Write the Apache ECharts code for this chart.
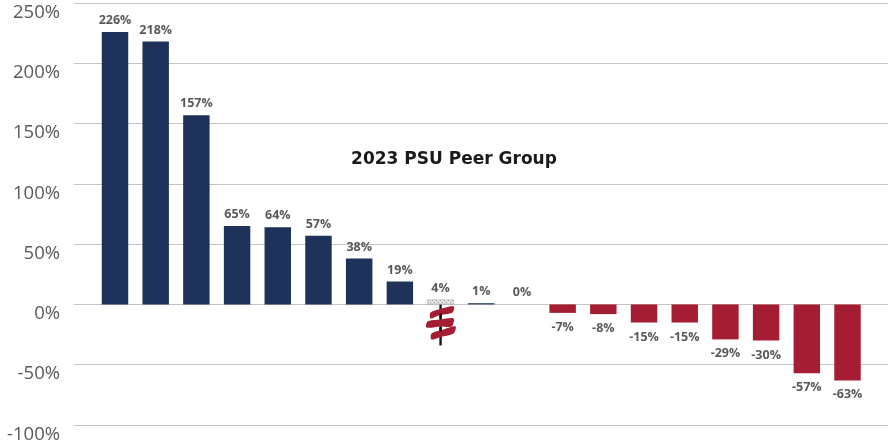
<!DOCTYPE html>
<html>
<head>
<meta charset="utf-8">
<script src="https://cdn.jsdelivr.net/npm/echarts@6/dist/echarts.min.js"></script>
<style>
html,body{margin:0;padding:0;background:#fff;}
#c{width:888px;height:446px;}
</style>
</head>
<body>
<div id="c"></div>
<script>
const categories = ['Peer 1','Peer 2','Peer 3','Peer 4','Peer 5','Peer 6','Peer 7','Peer 8','PSU','Peer 9','Peer 10','Peer 11','Peer 12','Peer 13','Peer 14','Peer 15','Peer 16','Peer 17','Peer 18'];
const values = [226, 218, 157, 65, 64, 57, 38, 19, 4, 1, 0, -7, -8, -15, -15, -29, -30, -57, -63];
const highlightCategory = 'PSU';
const yMin = -100, yMax = 250, yStep = 50;
const titleText = '2023 PSU Peer Group';

const NAVY = '#1f3259';
const RED = '#a51d32';
const FONT = '"Open Sans", sans-serif';

// hatched pattern for highlighted bar
const pc = document.createElement('canvas');
pc.width = 4; pc.height = 4;
const pctx = pc.getContext('2d');
pctx.fillStyle = '#e4e4e4'; pctx.fillRect(0,0,4,4);
pctx.fillStyle = '#9a9a9a'; pctx.fillRect(0,0,1,1); pctx.fillRect(2,2,1,1);

const data = values.map((v, i) => {
  const isHi = categories[i] === highlightCategory;
  return {
    value: v,
    itemStyle: isHi ? { color: { image: pc, repeat: 'repeat' }, borderColor: '#a8a8a8', borderWidth: 0.6 }
                    : { color: v >= 0 ? NAVY : RED },
    label: { position: v >= 0 ? 'top' : 'bottom', distance: v >= 0 ? 5 : 8 }
  };
});

const chart = echarts.init(document.getElementById('c'), null, { renderer: 'canvas' });
chart.setOption({
  animation: false,
  title: {
    text: titleText, left: 449, top: 146, textAlign: 'center',
    textStyle: { fontFamily: '"DejaVu Sans", sans-serif', fontWeight: 700, fontSize: 17, color: '#1a1a1a' }
  },
  grid: [
    { left: 74, right: 0, top: 3, bottom: 21 },
    { left: 94.65, right: 20.15, top: 3, bottom: 21 }
  ],
  xAxis: [
    { gridIndex: 0, type: 'value', show: false, min: 0, max: 1 },
    { gridIndex: 1, type: 'category', data: categories, show: false }
  ],
  yAxis: [
    { gridIndex: 0, type: 'value', min: yMin, max: yMax, interval: yStep,
      axisLine: { show: false }, axisTick: { show: false },
      splitLine: { lineStyle: { color: '#c4c4c4', width: 1 } },
      axisLabel: { formatter: '{value}%', margin: 14, verticalAlign: 'top',
        fontFamily: FONT, fontSize: 18.5, color: '#595959' } },
    { gridIndex: 1, type: 'value', min: yMin, max: yMax, interval: yStep, show: false,
      splitLine: { show: false } }
  ],
  series: [{
    type: 'bar', xAxisIndex: 1, yAxisIndex: 1, barWidth: '65%',
    data: data,
    label: { show: true, formatter: '{c}%', fontFamily: FONT, fontWeight: 700, fontSize: 12.5, color: '#595959' }
  }]
});

// logo below highlighted bar
const p = chart.convertToPixel({ xAxisIndex: 1, yAxisIndex: 1 }, [highlightCategory, 0]);
chart.setOption({
  graphic: [{
    type: 'group', x: p[0], y: p[1], z: 100,
    children: [
      { type: 'rect', shape: { x: -1.2, y: 0, width: 2.4, height: 41 }, style: { fill: '#151515' } },
      { type: 'polygon', shape: { points: [[-10,8],[-2,5],[13,2],[12,8],[-2,11],[-10,14]], smooth: 0.3 }, style: { fill: RED } },
      { type: 'polygon', shape: { points: [[-13,17],[0,15],[13,14],[11,22],[0,22],[-14,23]], smooth: 0.3 }, style: { fill: RED } },
      { type: 'polygon', shape: { points: [[-9,29],[3,25],[15,22],[13,29],[2,32],[-9,35]], smooth: 0.3 }, style: { fill: RED } },
      { type: 'rect', shape: { x: -1.2, y: 9, width: 2.4, height: 5 }, style: { fill: '#151515' } },
      { type: 'rect', shape: { x: -1.2, y: 23, width: 2.4, height: 4 }, style: { fill: '#151515' } }
    ]
  }]
});
</script>
</body>
</html>
